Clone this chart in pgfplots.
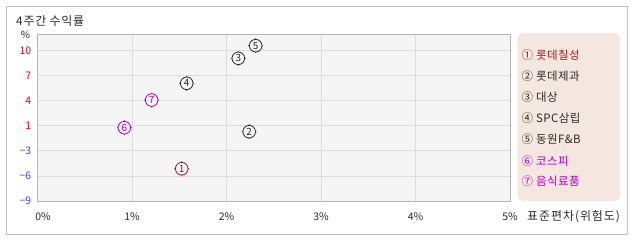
\documentclass[border=0pt]{standalone}
\usepackage{fontspec}
\setmainfont{Noto Sans CJK KR}
\usepackage{pgfplots}
\pgfplotsset{compat=1.18}
\definecolor{cR}{HTML}{A81818}
\definecolor{cK}{HTML}{2A2A2A}
\definecolor{cM}{HTML}{B000C0}
\definecolor{tickred}{HTML}{F00000}
\definecolor{tickblue}{HTML}{4040F0}
\definecolor{gridc}{HTML}{DCDCDC}
\definecolor{axisc}{HTML}{B4B4B4}
\definecolor{bgc}{HTML}{F5F5F5}
\definecolor{framec}{HTML}{BEBEBE}
\definecolor{legbg}{HTML}{F5E7E0}
\pgfdeclareplotmark{tcirc}{%
  \pgfpathcircle{\pgfpointorigin}{\pgfplotmarksize}%
  \pgfpathmoveto{\pgfpoint{0pt}{\pgfplotmarksize}}\pgfpathlineto{\pgfpoint{0pt}{\pgfplotmarksize+1.2pt}}%
  \pgfpathmoveto{\pgfpoint{0pt}{-\pgfplotmarksize}}\pgfpathlineto{\pgfpoint{0pt}{-\pgfplotmarksize-1.2pt}}%
  \pgfpathmoveto{\pgfpoint{\pgfplotmarksize}{0pt}}\pgfpathlineto{\pgfpoint{\pgfplotmarksize+1.2pt}{0pt}}%
  \pgfpathmoveto{\pgfpoint{-\pgfplotmarksize}{0pt}}\pgfpathlineto{\pgfpoint{-\pgfplotmarksize-1.2pt}{0pt}}%
  \pgfusepathqstroke}
\pgfplotsset{
  pt/.style={only marks, mark=tcirc, mark size=6.3bp, line width=0.8bp, color=#1,
    every node near coord/.style={anchor=center, font=\fontsize{10}{10}\selectfont, text=#1, inner sep=0pt}},
}
\begin{document}
\begin{tikzpicture}
\path[use as bounding box] (0,0) rectangle (638bp,242bp);
\draw[framec, line width=1bp] (6.5bp,7bp) rectangle (627bp,235bp);
\begin{axis}[
  at={(37.5bp,41bp)}, anchor=south west,
  scale only axis, width=472.5bp, height=167bp,
  xmin=0, xmax=5, ymin=-9, ymax=12.3,
  xtick={0,1,2,3,4,5},
  xticklabels={\hspace{11bp}0\%,1\%,2\%,3\%,4\%,5\%},
  ytick={-9,-5.8,-2.6,0.6,3.8,7,10.2},
  yticklabels={\textcolor{tickblue}{−9},\textcolor{tickblue}{−6},\textcolor{tickblue}{−3},\textcolor{tickred}{1},\textcolor{tickred}{4},\textcolor{tickred}{7},\textcolor{tickred}{10}},
  major tick length=0pt,
  grid=major,
  major grid style={color=gridc, line width=0.8bp},
  axis line style={color=axisc, line width=0.9bp},
  axis background/.style={fill=bgc},
  xticklabel style={font=\fontsize{10.5}{10.5}\selectfont, text=cK, anchor=center, yshift=-16bp},
  yticklabel style={font=\fontsize{10.5}{10.5}\selectfont, anchor=east, inner sep=0pt, xshift=-6bp},
  clip=false,
]
\addplot[pt=cR, nodes near coords={1}] coordinates {(1.526,-4.88)};
\addplot[pt=cK, nodes near coords={2}] coordinates {(2.24,-0.16)};
\addplot[pt=cK, nodes near coords={3}] coordinates {(2.125,9.2)};
\addplot[pt=cK, nodes near coords={4}] coordinates {(1.579,6.01)};
\addplot[pt=cK, nodes near coords={5}] coordinates {(2.309,10.81)};
\addplot[pt=cM, nodes near coords={6}] coordinates {(0.919,0.35)};
\addplot[pt=cM, nodes near coords={7}] coordinates {(1.208,3.88)};
\end{axis}
\node[anchor=west, inner sep=0pt, text=cK, font=\fontsize{12}{12}\selectfont\addfontfeature{LetterSpace=6}] at (16bp,221bp) {4주간 수익률};
\node[inner sep=0pt, text=cK, font=\fontsize{10}{10}\selectfont] at (25.5bp,207bp) {\%};
\node[anchor=west, inner sep=0pt, text=cK, font=\fontsize{12}{12}\selectfont\addfontfeature{LetterSpace=8}] at (527bp,25bp) {표준편차(위험도)};
\fill[legbg, rounded corners=5bp] (517.5bp,41bp) rectangle (620bp,209bp);
\begin{scope}[every node/.style={anchor=west, inner sep=0pt, font=\fontsize{11.5}{11.5}\selectfont\addfontfeature{LetterSpace=4}}]
\node[text=cR] at (521.5bp,187bp) {① 롯데칠성};
\node[text=cK] at (521.5bp,165.5bp) {② 롯데제과};
\node[text=cK] at (521.5bp,144.5bp) {③ 대상};
\node[text=cK] at (521.5bp,123.5bp) {④ SPC삼립};
\node[text=cK] at (521.5bp,102.5bp) {⑤ 동원F\&B};
\node[text=cM] at (521.5bp,81bp) {⑥ 코스피};
\node[text=cM] at (521.5bp,60.5bp) {⑦ 음식료품};
\end{scope}
\end{tikzpicture}
\end{document}
